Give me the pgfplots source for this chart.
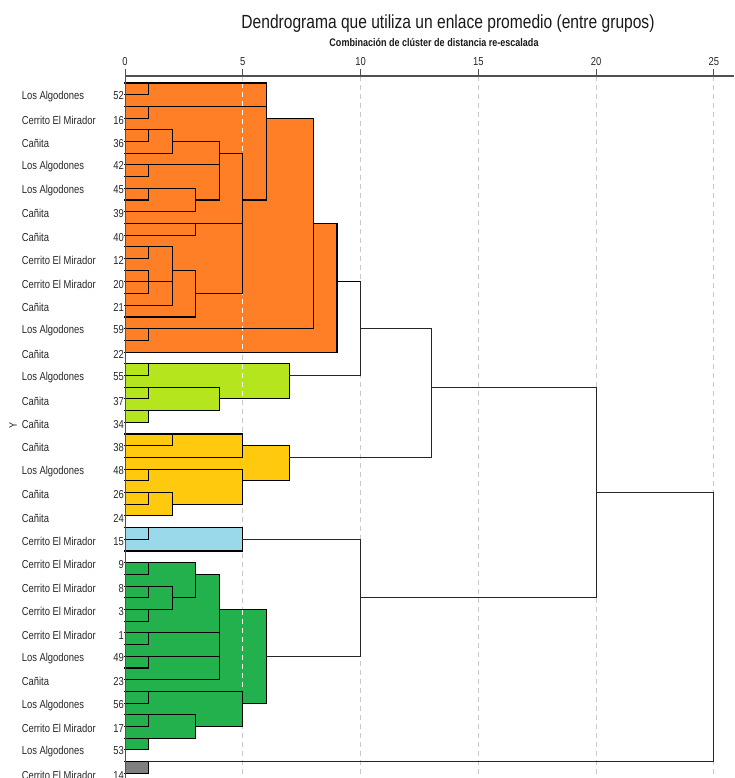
\documentclass[border=0pt]{standalone}
\usepackage{fontspec}
\setmainfont[FakeStretch=0.82]{Liberation Sans}
\usepackage{pgfplots}
\pgfplotsset{compat=1.18}
\definecolor{cOr}{HTML}{FF7F27}
\definecolor{cLi}{HTML}{B5E61D}
\definecolor{cGo}{HTML}{FFC90E}
\definecolor{cBl}{HTML}{99D9EA}
\definecolor{cGr}{HTML}{22B14C}
\definecolor{cGy}{HTML}{7F7F7F}
\definecolor{gridc}{HTML}{C8C8C8}
\definecolor{axc}{HTML}{505050}
\newcommand{\lab}[2]{\hbox to 102pt{#1\hfill #2}}
\pgfplotsset{
  seg/.style={black, line width=1.1pt, line cap=rect, unbounded coords=jump, mark=none},
  con/.style={black!85, line width=0.9pt, line cap=rect, unbounded coords=jump, mark=none},
  fl/.style={draw=none, mark=none}
}
\begin{document}
\begin{tikzpicture}
\begin{axis}[
  at={(125pt,-76pt)}, anchor=north west,
  x=23.55pt, y=11.7pt,
  xmin=0, xmax=25.86, ymin=-0.6, ymax=59.4,
  y dir=reverse,
  clip=false,
  axis line style={draw=none},
  xtick={0,5,10,15,20,25},
  xtick pos=right, xticklabel pos=right,
  tick align=inside, major tick length=7pt,
  xtick style={draw=none},
  xticklabel style={font=\fontsize{11.5}{13}\selectfont, text=black!85, yshift=7pt},
  xmajorgrids=true,
  major grid style={gridc, dash pattern=on 5pt off 4pt, line width=0.9pt},
  ytick={1,3,...,59},
  yticklabels={
    {\lab{Los Algodones}{52}},{\lab{Cerrito El Mirador}{16}},{\lab{Cañita}{36}},{\lab{Los Algodones}{42}},
    {\lab{Los Algodones}{45}},{\lab{Cañita}{39}},{\lab{Cañita}{40}},{\lab{Cerrito El Mirador}{12}},
    {\lab{Cerrito El Mirador}{20}},{\lab{Cañita}{21}},{\lab{Los Algodones}{59}},{\lab{Cañita}{22}},
    {\lab{Los Algodones}{55}},{\lab{Cañita}{37}},{\lab{Cañita}{34}},{\lab{Cañita}{38}},
    {\lab{Los Algodones}{48}},{\lab{Cañita}{26}},{\lab{Cañita}{24}},{\lab{Cerrito El Mirador}{15}},
    {\lab{Cerrito El Mirador}{9}},{\lab{Cerrito El Mirador}{8}},{\lab{Cerrito El Mirador}{3}},{\lab{Cerrito El Mirador}{1}},
    {\lab{Los Algodones}{49}},{\lab{Cañita}{23}},{\lab{Los Algodones}{56}},{\lab{Cerrito El Mirador}{17}},
    {\lab{Los Algodones}{53}},{\lab{Cerrito El Mirador}{14}}},
  ytick style={draw=none},
  yticklabel style={font=\fontsize{11.5}{13}\selectfont, text=black!85, anchor=east, inner sep=1pt, yshift=-2pt},
  /pgf/number format/assume math mode=true,
]
% fills
\addplot[fl, fill=cOr] coordinates {(0,0)(6,0)(6,3)(8,3)(8,12)(9,12)(9,23)(0,23)(0,0)};
\addplot[fl, fill=cLi] coordinates {(0,24)(7,24)(7,27)(4,27)(4,28)(1,28)(1,29)(0,29)(0,24)};
\addplot[fl, fill=cGo] coordinates {(0,30)(5,30)(5,31)(7,31)(7,34)(5,34)(5,36)(2,36)(2,37)(0,37)(0,30)};
\addplot[fl, fill=cBl] coordinates {(0,38)(5,38)(5,40)(0,40)(0,38)};
\addplot[fl, fill=cGr] coordinates {(0,41)(3,41)(3,42)(4,42)(4,45)(6,45)(6,53)(5,53)(5,55)(3,55)(3,56)(1,56)(1,57)(0,57)(0,41)};
\addplot[fl, fill=cGy] coordinates {(0,58)(1,58)(1,59)(0,59)(0,58)};
% white dashes over fills at x=5
\addplot[white!92!gray, dash pattern=on 5pt off 4pt, line width=0.9pt, unbounded coords=jump, mark=none] coordinates {
 (5,0)(5,23) (0,nan) (5,24)(5,27) (0,nan) (5,45)(5,52)};
% orange cluster
\addplot[seg] coordinates {
 (0,0)(6,0) (0,nan) (0,1)(1,1) (0,nan) (0,2)(6,2) (0,nan) (0,3)(1,3) (0,nan) (6,3)(8,3) (0,nan)
 (0,4)(2,4) (0,nan) (0,5)(1,5) (0,nan) (2,5)(4,5) (0,nan) (0,6)(2,6) (0,nan) (4,6)(5,6) (0,nan)
 (0,7)(4,7) (0,nan) (0,8)(1,8) (0,nan) (0,9)(3,9) (0,nan) (0,10)(1,10) (0,nan) (3,10)(4,10) (0,nan)
 (5,10)(6,10) (0,nan) (0,11)(3,11) (0,nan) (0,12)(5,12) (0,nan) (8,12)(9,12) (0,nan) (0,13)(3,13) (0,nan)
 (0,14)(2,14) (0,nan) (0,15)(1,15) (0,nan) (0,16)(1,16) (0,nan) (2,16)(3,16) (0,nan) (0,17)(2,17) (0,nan)
 (9,17)(10,17) (0,nan) (0,18)(1,18) (0,nan) (3,18)(5,18) (0,nan) (0,19)(2,19) (0,nan) (0,20)(3,20) (0,nan)
 (0,21)(8,21) (0,nan) (0,22)(1,22) (0,nan) (0,23)(9,23) (0,nan)
 (1,0)(1,1) (0,nan) (1,2)(1,3) (0,nan) (1,4)(1,5) (0,nan) (1,7)(1,8) (0,nan) (1,9)(1,10) (0,nan)
 (1,14)(1,15) (0,nan) (1,16)(1,18) (0,nan) (1,21)(1,22) (0,nan) (2,4)(2,6) (0,nan) (2,14)(2,19) (0,nan)
 (3,9)(3,11) (0,nan) (3,12)(3,13) (0,nan) (3,16)(3,20) (0,nan) (4,5)(4,10) (0,nan) (5,6)(5,18) (0,nan)
 (6,0)(6,10) (0,nan) (8,3)(8,21) (0,nan) (9,12)(9,23)};
% lime cluster
\addplot[seg] coordinates {
 (0,24)(7,24) (0,nan) (0,25)(1,25) (0,nan) (0,26)(4,26) (0,nan) (0,27)(1,27) (0,nan) (4,27)(7,27) (0,nan)
 (0,28)(4,28) (0,nan) (0,29)(1,29) (0,nan)
 (1,24)(1,25) (0,nan) (1,26)(1,27) (0,nan) (1,28)(1,29) (0,nan) (4,26)(4,28) (0,nan) (7,24)(7,27)};
% gold cluster
\addplot[seg] coordinates {
 (0,30)(5,30) (0,nan) (0,31)(2,31) (0,nan) (5,31)(7,31) (0,nan) (0,32)(5,32) (0,nan) (0,33)(5,33) (0,nan)
 (0,34)(1,34) (0,nan) (5,34)(7,34) (0,nan) (0,35)(2,35) (0,nan) (0,36)(1,36) (0,nan) (2,36)(5,36) (0,nan)
 (0,37)(2,37) (0,nan)
 (1,33)(1,34) (0,nan) (1,35)(1,36) (0,nan) (2,30)(2,31) (0,nan) (2,35)(2,37) (0,nan) (5,30)(5,32) (0,nan)
 (5,33)(5,36) (0,nan) (7,31)(7,34)};
% blue cluster
\addplot[seg] coordinates {
 (0,38)(5,38) (0,nan) (0,39)(1,39) (0,nan) (0,40)(5,40) (0,nan) (1,38)(1,39) (0,nan) (5,38)(5,40)};
% green cluster
\addplot[seg] coordinates {
 (0,41)(3,41) (0,nan) (0,42)(1,42) (0,nan) (3,42)(4,42) (0,nan) (0,43)(2,43) (0,nan) (0,44)(1,44) (0,nan)
 (2,44)(3,44) (0,nan) (0,45)(2,45) (0,nan) (4,45)(6,45) (0,nan) (0,46)(1,46) (0,nan) (0,47)(4,47) (0,nan)
 (0,48)(1,48) (0,nan) (0,49)(4,49) (0,nan) (0,50)(1,50) (0,nan) (0,51)(4,51) (0,nan) (0,52)(5,52) (0,nan)
 (0,53)(1,53) (0,nan) (5,53)(6,53) (0,nan) (0,54)(3,54) (0,nan) (0,55)(1,55) (0,nan) (3,55)(5,55) (0,nan)
 (0,56)(3,56) (0,nan) (0,57)(1,57) (0,nan)
 (1,41)(1,42) (0,nan) (1,43)(1,44) (0,nan) (1,45)(1,46) (0,nan) (1,47)(1,48) (0,nan) (1,49)(1,50) (0,nan)
 (1,52)(1,53) (0,nan) (1,54)(1,55) (0,nan) (1,56)(1,57) (0,nan) (2,43)(2,45) (0,nan) (3,41)(3,44) (0,nan)
 (3,54)(3,56) (0,nan) (4,42)(4,51) (0,nan) (5,52)(5,55) (0,nan) (6,45)(6,53)};
% grey leaf
\addplot[seg] coordinates {(0,59)(1,59) (0,nan) (1,58)(1,59) (0,nan) (0,58)(1,58)};
% connectors
\addplot[con] coordinates {
 (7,25)(10,25) (0,nan) (7,32)(13,32) (0,nan) (5,39)(10,39) (0,nan) (6,49)(10,49) (0,nan) (1,58)(25,58) (0,nan)
 (10,17)(10,25) (0,nan) (10,21)(13,21) (0,nan) (13,21)(13,32) (0,nan) (13,26)(20,26) (0,nan)
 (10,39)(10,49) (0,nan) (10,44)(20,44) (0,nan) (20,26)(20,44) (0,nan) (20,35)(25,35) (0,nan) (25,35)(25,58)};
% axis tick marks
\addplot[axc, line width=1pt, unbounded coords=jump, mark=none] coordinates {
 (0,-0.6)(0,-1.2) (0,nan) (5,-0.6)(5,-1.2) (0,nan) (10,-0.6)(10,-1.2) (0,nan)
 (15,-0.6)(15,-1.2) (0,nan) (20,-0.6)(20,-1.2) (0,nan) (25,-0.6)(25,-1.2)};
% axis lines
\draw[axc, line width=1pt] (axis cs:0,-0.6) -- (axis cs:0,59.4);
\draw[axc, line width=1.6pt] (axis cs:0,-0.6) -- (axis cs:25.86,-0.6);
\end{axis}
\node[anchor=base, font=\fontsize{19}{22}\selectfont, text=black!90] at (448pt,-29pt) {Dendrograma que utiliza un enlace promedio (entre grupos)};
\node[anchor=base, font=\bfseries\fontsize{11}{13}\selectfont, text=black!90] at (434pt,-46.5pt) {Combinación de clúster de distancia re-escalada};
\node[rotate=90, font=\fontsize{11}{13}\selectfont, text=black!85] at (13pt,-425pt) {Y};
\pgfresetboundingbox
\path (0,0) rectangle (734pt,-778pt);
\end{tikzpicture}
\end{document}
